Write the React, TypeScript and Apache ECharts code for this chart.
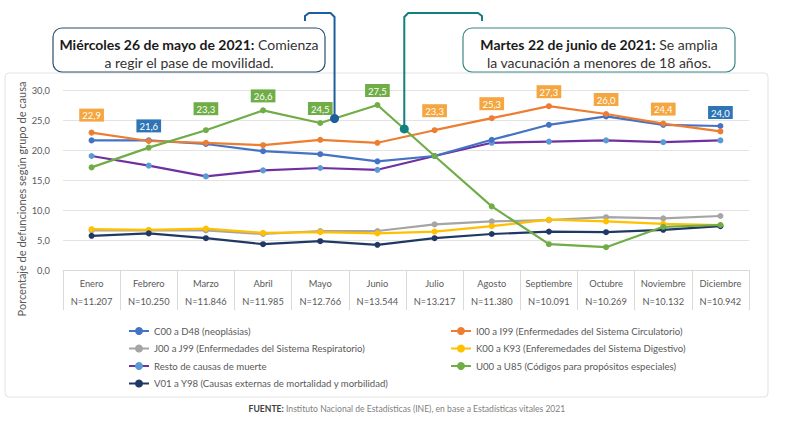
import React, { useEffect, useRef } from "react";
import * as echarts from "echarts";

const months = ["Enero", "Febrero", "Marzo", "Abril", "Mayo", "Junio", "Julio", "Agosto", "Septiembre", "Octubre", "Noviembre", "Diciembre"];
const nTotals = ["11.207", "10.250", "11.846", "11.985", "12.766", "13.544", "13.217", "11.380", "10.091", "10.269", "10.132", "10.942"];

const neoplasias = [21.6, 21.6, 21.0, 19.8, 19.3, 18.1, 19.0, 21.7, 24.2, 25.6, 24.2, 24.0];
const circulatorio = [22.9, 21.5, 21.2, 20.8, 21.7, 21.2, 23.3, 25.3, 27.3, 26.0, 24.4, 23.1];
const respiratorio = [6.6, 6.6, 6.6, 6.0, 6.5, 6.5, 7.6, 8.1, 8.3, 8.8, 8.6, 9.0];
const digestivo = [6.8, 6.7, 6.9, 6.2, 6.3, 6.1, 6.4, 7.3, 8.4, 8.1, 7.7, 7.5];
const resto = [19.0, 17.4, 15.6, 16.6, 17.0, 16.7, 19.0, 21.2, 21.4, 21.6, 21.3, 21.6];
const especiales = [17.1, 20.4, 23.3, 26.6, 24.5, 27.5, 19.0, 10.6, 4.3, 3.8, 7.2, 7.5];
const externas = [5.7, 6.1, 5.3, 4.3, 4.8, 4.2, 5.3, 6.0, 6.4, 6.3, 6.7, 7.3];

const labeledNeo = [1, 11];
const labeledCirc = [0, 6, 7, 8, 9, 10];
const labeledEsp = [2, 3, 4, 5];

const names = {
  neo: "C00 a D48 (neoplásias)",
  circ: "I00 a I99 (Enfermedades del Sistema Circulatorio)",
  resp: "J00 a J99 (Enfermedades del Sistema Respiratorio)",
  dig: "K00 a K93 (Enferemedades del Sistema Digestivo)",
  resto: "Resto de causas de muerte",
  esp: "U00 a U85 (Códigos para propósitos especiales)",
  ext: "V01 a Y98 (Causas externas de mortalidad y morbilidad)",
};

const FONT = "Lato, 'Open Sans', sans-serif";
const fmt = (v: number) => v.toFixed(1).replace(".", ",");

function buildData(values: number[], labeled: number[], bg: string, distances: Record<number, number>) {
  return values.map((v, i) =>
    labeled.includes(i)
      ? {
          value: v,
          label: {
            show: true,
            position: "top",
            distance: distances[i] ?? 5,
            formatter: (p: any) => fmt(p.value),
            backgroundColor: bg,
            color: "#ffffff",
            fontSize: 9.5,
            fontFamily: FONT,
            padding: [2, 3, 1, 3],
          },
        }
      : v
  );
}

function lineSeries(name: string, data: any[], color: string, markerColor?: string, z = 2) {
  return {
    type: "line",
    name,
    data,
    z,
    symbol: "circle",
    symbolSize: 6,
    showSymbol: true,
    lineStyle: { color, width: 2.2 },
    itemStyle: { color: markerColor ?? color },
    emphasis: { disabled: true },
    label: { show: false },
  };
}

export default function App() {
  const ref = useRef<HTMLDivElement>(null);
  useEffect(() => {
    if (!ref.current) return;
    const chart = echarts.init(ref.current, null, { renderer: "svg" });
    const legendText = { fontSize: 9.6, color: "#595959", fontFamily: FONT };
    const option: any = {
      animation: false,
      backgroundColor: "#ffffff",
      textStyle: { fontFamily: FONT },
      grid: { left: 63, right: 38, top: 90, bottom: 157 },
      legend: [
        {
          data: [names.neo, names.resp, names.resto, names.ext],
          orient: "vertical",
          left: 123,
          top: 321,
          itemWidth: 20,
          itemHeight: 10,
          itemGap: 7.5,
          textStyle: legendText,
        },
        {
          data: [names.circ, names.dig, names.esp],
          orient: "vertical",
          left: 445,
          top: 321,
          itemWidth: 20,
          itemHeight: 10,
          itemGap: 7.5,
          textStyle: legendText,
        },
      ],
      xAxis: {
        type: "category",
        data: months,
        boundaryGap: true,
        axisLine: { show: true, lineStyle: { color: "#D9D9D9", width: 1 } },
        axisTick: { show: true, interval: 0, length: 40, lineStyle: { color: "#D9D9D9" } },
        axisLabel: {
          interval: 0,
          margin: 4,
          lineHeight: 18,
          fontSize: 9.3,
          color: "#595959",
          fontFamily: FONT,
          formatter: (v: string, i: number) => `${v}\nN=${nTotals[i]}`,
        },
      },
      yAxis: {
        type: "value",
        min: 0,
        max: 30,
        interval: 5,
        axisLine: { show: false },
        axisTick: { show: false },
        splitLine: { lineStyle: { color: "#E3E3E3", width: 1 } },
        axisLabel: { fontSize: 9.3, color: "#595959", margin: 13, fontFamily: FONT, formatter: (v: number) => fmt(v) },
      },
      series: [
        lineSeries(names.neo, buildData(neoplasias, labeledNeo, "#2E75B6", { 11: 4 }), "#4472C4", undefined, 3),
        lineSeries(names.circ, buildData(circulatorio, labeledCirc, "#F4A640", { 0: 8, 6: 10 }), "#ED7D31", undefined, 3),
        lineSeries(names.resp, respiratorio, "#A5A5A5"),
        lineSeries(names.dig, digestivo, "#FFC000"),
        lineSeries(names.resto, resto, "#7030A0", "#5B9BD5"),
        lineSeries(names.esp, buildData(especiales, labeledEsp, "#70AD47", { 2: 12 }), "#70AD47", undefined, 4),
        lineSeries(names.ext, externas, "#203864"),
      ],
    };
    chart.setOption(option);

    const px = (i: number, v: number) => chart.convertToPixel({ gridIndex: 0 }, [i, v]) as number[];
    const dotAt = (i: number, t: number) => {
      const a = px(i, especiales[i]);
      const b = px(i + 1, especiales[i + 1]);
      return [a[0] + t * (b[0] - a[0]), a[1] + t * (b[1] - a[1])];
    };
    const d1 = dotAt(4, 0.25);
    const d2 = dotAt(5, 0.47);

    const callout = (x: number, w: number, bold: string, rest: string, line2: string, stroke: string) => [
      {
        type: "rect",
        shape: { x, y: 28, width: w, height: 44, r: 9 },
        style: { fill: "#ffffff", stroke, lineWidth: 1.2 },
        z: 20,
      },
      {
        type: "text",
        x: x + w / 2,
        y: 53,
        z: 21,
        style: {
          text: `{b|${bold}} ${rest}\n${line2}`,
          align: "center",
          verticalAlign: "middle",
          fontSize: 14,
          lineHeight: 18,
          fontFamily: FONT,
          fill: "#333333",
          rich: { b: { fontWeight: "bold", fontSize: 14, fontFamily: FONT, fill: "#1a1a1a", lineHeight: 18 } },
        },
      },
    ];

    chart.setOption({
      graphic: [
        {
          type: "rect",
          shape: { x: 5, y: 73, width: 763, height: 324, r: 4 },
          style: { fill: "none", stroke: "#E2E2E2", lineWidth: 1 },
          z: -1,
          silent: true,
        },
        {
          type: "text",
          x: 21,
          y: 199,
          rotation: Math.PI / 2,
          style: {
            text: "Porcentaje de defunciones según grupo de causa",
            align: "center",
            verticalAlign: "middle",
            fontSize: 11,
            fontFamily: FONT,
            fill: "#595959",
          },
        },
        ...callout(53, 272, "Miércoles 26 de mayo de 2021:", "Comienza", "a regir el pase de movilidad.", "#2B4F6B"),
        ...callout(463, 272, "Martes 22 de junio de 2021:", "Se amplia", "la vacunación a menores de 18 años.", "#3C8587"),
        {
          type: "polyline",
          z: 15,
          shape: { points: [[d1[0], d1[1]], [d1[0], 17], [d1[0] - 4, 13], [309, 13], [305, 16], [305, 21]] },
          style: { stroke: "#1F5E9C", lineWidth: 2, fill: "none" },
        },
        { type: "circle", z: 16, shape: { cx: d1[0], cy: d1[1], r: 4.5 }, style: { fill: "#1F5E9C" } },
        {
          type: "polyline",
          z: 15,
          shape: { points: [[d2[0], d2[1]], [d2[0], 17], [d2[0] + 4, 13], [478, 13], [482, 16], [482, 21]] },
          style: { stroke: "#11807F", lineWidth: 2, fill: "none" },
        },
        { type: "circle", z: 16, shape: { cx: d2[0], cy: d2[1], r: 4.5 }, style: { fill: "#11807F" } },
        {
          type: "text",
          x: 407,
          y: 409,
          style: {
            text: "{b|FUENTE:} Instituto Nacional de Estadísticas (INE), en base a Estadísticas vitales 2021",
            align: "center",
            verticalAlign: "middle",
            fontSize: 8.6,
            fontFamily: FONT,
            fill: "#7F7F7F",
            rich: { b: { fontWeight: "bold", fontSize: 8.6, fontFamily: FONT, fill: "#404040" } },
          },
        },
      ],
    });

    return () => chart.dispose();
  }, []);
  return <div ref={ref} style={{ position: "fixed", left: 0, top: 0, width: 787, height: 427 }} />;
}
